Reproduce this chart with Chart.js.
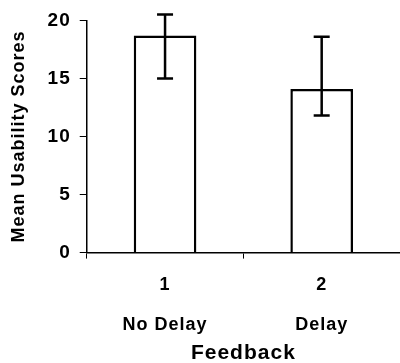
<!DOCTYPE html>
<html>
<head>
<meta charset="utf-8">
<script src="https://cdn.jsdelivr.net/npm/chart.js@4.4.0/dist/chart.umd.min.js"></script>
<style>
  html, body { margin: 0; padding: 0; background: #fff; }
  #wrap { width: 400px; height: 363px; }
</style>
</head>
<body>
<div id="wrap"><canvas id="barChart"></canvas></div>
<script>
const groupNumbers = ['1', '2']
const categories = ['No Delay', 'Delay']
const meanScores = [18.7, 14.1]
const errorLow = [15.0, 11.8]
const errorHigh = [20.5, 18.6]
const yTicks = [0, 5, 10, 15, 20]

Chart.defaults.font.family = '"Liberation Sans", Arial, sans-serif'
Chart.defaults.font.weight = 'bold'
Chart.defaults.color = '#000'

// labels: number, blank line, name
const labels = categories.map((c, i) => [groupNumbers[i], '', c])

const spacing = {
  id: 'spacing',
  beforeUpdate(chart) { chart.ctx.letterSpacing = '1px' },
  beforeDraw(chart) { chart.ctx.letterSpacing = '1px' }
}

const errorBars = {
  id: 'errorBars',
  afterDatasetsDraw(chart) {
    const ctx = chart.ctx
    const y = chart.scales.y
    const meta = chart.getDatasetMeta(0)
    ctx.save()
    ctx.strokeStyle = '#000'
    ctx.lineWidth = 2.5
    meta.data.forEach((bar, i) => {
      const top = y.getPixelForValue(errorHigh[i])
      const bottom = y.getPixelForValue(errorLow[i])
      ctx.beginPath()
      ctx.moveTo(bar.x, top)
      ctx.lineTo(bar.x, bottom)
      ctx.moveTo(bar.x - 8, top)
      ctx.lineTo(bar.x + 8, top)
      ctx.moveTo(bar.x - 8, bottom)
      ctx.lineTo(bar.x + 8, bottom)
      ctx.stroke()
    })
    ctx.restore()
  }
}

new Chart(document.getElementById('barChart'), {
  type: 'bar',
  data: {
    labels: labels,
    datasets: [{
      data: meanScores,
      backgroundColor: '#fff',
      borderColor: '#000',
      borderWidth: 2.5,
      barPercentage: 0.4,
      categoryPercentage: 1.0,
    }]
  },
  options: {
    responsive: true,
    maintainAspectRatio: false,
    animation: false,
    layout: { padding: { left: 6, top: 10, right: 0, bottom: 0 } },
    plugins: {
      legend: { display: false },
      tooltip: { enabled: false },
    },
    scales: {
      x: {
        grid: {
          drawOnChartArea: false,
          drawTicks: true,
          tickLength: 6,
          color: '#000',
        },
        border: { color: '#000', width: 1.5 },
        ticks: {
          padding: 17,
          maxRotation: 0,
          font: { size: 18, lineHeight: 1.1 },
        },
        title: {
          display: true,
          text: 'Feedback',
          font: { size: 21, lineHeight: 1.0 },
          padding: { top: -9, bottom: -1 },
        },
      },
      y: {
        min: 0,
        max: 20,
        afterBuildTicks(axis) { axis.ticks = yTicks.map(v => ({ value: v })) },
        grid: {
          drawOnChartArea: false,
          drawTicks: true,
          tickLength: 7,
          color: '#000',
        },
        border: { color: '#000', width: 1.5 },
        ticks: {
          padding: 9,
          font: { size: 19 },
        },
        title: {
          display: true,
          text: 'Mean Usability Scores',
          font: { size: 18 },
          padding: { top: 2, bottom: 9 },
        },
      },
    }
  },
  plugins: [spacing, errorBars]
})
</script>
</body>
</html>
